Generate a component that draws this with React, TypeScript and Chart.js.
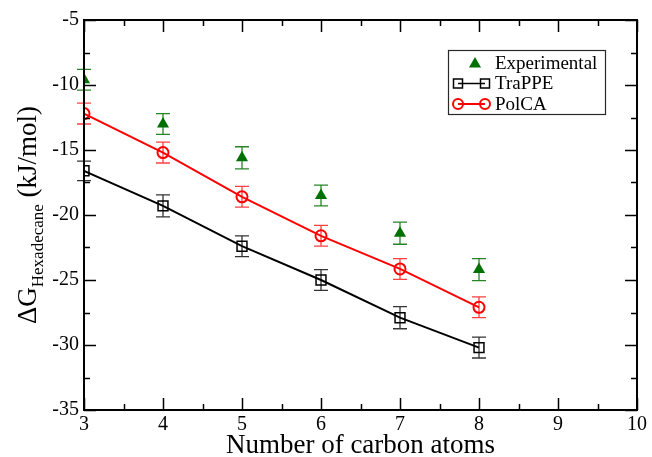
import React, { useEffect, useRef } from "react";
import { Chart, registerables } from "chart.js";

Chart.register(...registerables);

const carbonAtoms = [3, 4, 5, 6, 7, 8];
const experimental = [-9.6, -13.0, -15.6, -18.5, -21.4, -24.2];
const experimentalErr = [0.8, 0.8, 0.85, 0.8, 0.85, 0.85];
const trappe = [-16.6, -19.3, -22.4, -25.0, -27.9, -30.2];
const trappeErr = [0.75, 0.85, 0.8, 0.8, 0.85, 0.8];
const polca = [-12.2, -15.2, -18.6, -21.6, -24.15, -27.1];
const polcaErr = [0.8, 0.8, 0.8, 0.8, 0.8, 0.8];

const xMin = 3, xMax = 10, xStep = 1;
const yMin = -35, yMax = -5, yStep = 5;

const GREEN = "rgb(0,112,0)";
const RED = "rgb(255,0,0)";
const BLACK = "rgb(0,0,0)";
const SERIF = "'Liberation Serif', 'Times New Roman', serif";

const errorSets = [
  { values: experimental, errs: experimentalErr, color: "rgba(0,112,0,0.85)" },
  { values: trappe, errs: trappeErr, color: "rgba(0,0,0,0.8)" },
  { values: polca, errs: polcaErr, color: "rgba(255,0,0,0.75)" },
];

const framePlugin = {
  id: "gracePlugin",
  beforeDatasetsDraw(chart: any) {
    const ctx = chart.ctx;
    const xs = chart.scales.x;
    const ys = chart.scales.y;
    ctx.save();
    ctx.lineWidth = 1.3;
    errorSets.forEach((s) => {
      ctx.strokeStyle = s.color;
      s.values.forEach((v: number, i: number) => {
        const px = xs.getPixelForValue(carbonAtoms[i]);
        const top = ys.getPixelForValue(v + s.errs[i]);
        const bot = ys.getPixelForValue(v - s.errs[i]);
        ctx.beginPath();
        ctx.moveTo(px, top);
        ctx.lineTo(px, bot);
        ctx.moveTo(px - 7, top);
        ctx.lineTo(px + 7, top);
        ctx.moveTo(px - 7, bot);
        ctx.lineTo(px + 7, bot);
        ctx.stroke();
      });
    });
    ctx.restore();
  },
  afterDraw(chart: any) {
    const ctx = chart.ctx;
    const a = chart.chartArea;
    const xs = chart.scales.x;
    const ys = chart.scales.y;
    ctx.save();
    // ticks
    ctx.strokeStyle = BLACK;
    ctx.lineWidth = 1.5;
    ctx.beginPath();
    for (let v = xMin; v <= xMax + 1e-9; v += xStep / 2) {
      const major = Math.abs(v - Math.round(v)) < 1e-9;
      const len = major ? 12 : 6;
      const px = Math.round(xs.getPixelForValue(v)) + 0.5;
      ctx.moveTo(px, a.bottom);
      ctx.lineTo(px, a.bottom - len);
      ctx.moveTo(px, a.top);
      ctx.lineTo(px, a.top + len);
    }
    for (let v = yMin; v <= yMax + 1e-9; v += yStep / 2) {
      const major = Math.abs(v / yStep - Math.round(v / yStep)) < 1e-9;
      const len = major ? 12 : 6;
      const py = Math.round(ys.getPixelForValue(v)) + 0.5;
      ctx.moveTo(a.left, py);
      ctx.lineTo(a.left + len, py);
      ctx.moveTo(a.right, py);
      ctx.lineTo(a.right - len, py);
    }
    ctx.stroke();
    // frame
    ctx.lineWidth = 2;
    ctx.strokeRect(a.left, a.top, a.right - a.left, a.bottom - a.top);

    // y title with subscript
    const cy = (a.top + a.bottom) / 2;
    ctx.translate(36, cy);
    ctx.rotate(-Math.PI / 2);
    ctx.fillStyle = BLACK;
    ctx.textBaseline = "alphabetic";
    ctx.textAlign = "left";
    const bigFont = `27px ${SERIF}`;
    const subFont = `17px ${SERIF}`;
    ctx.font = bigFont;
    const w1 = ctx.measureText("ΔG").width;
    const w3 = ctx.measureText("(kJ/mol)").width;
    const space = ctx.measureText(" ").width;
    ctx.font = subFont;
    const w2 = ctx.measureText("Hexadecane").width;
    const total = w1 + w2 + space + w3;
    let x0 = -total / 2;
    ctx.font = bigFont;
    ctx.fillText("ΔG", x0, 0);
    x0 += w1;
    ctx.font = subFont;
    ctx.fillText("Hexadecane", x0, 7);
    x0 += w2 + space;
    ctx.font = bigFont;
    ctx.fillText("(kJ/mol)", x0, 0);
    ctx.setTransform(1, 0, 0, 1, 0, 0);

    // legend
    const lx = a.right - 189;
    const ly = a.top + 30;
    const lw = 157;
    const lh = 64;
    ctx.lineWidth = 1.2;
    ctx.strokeStyle = "rgb(40,40,40)";
    ctx.strokeRect(lx + 0.5, ly + 0.5, lw, lh);
    ctx.font = `19px ${SERIF}`;
    ctx.textBaseline = "middle";
    ctx.fillStyle = BLACK;
    const rows = [
      { label: "Experimental", y: ly + 13 },
      { label: "TraPPE", y: ly + 33.5 },
      { label: "PolCA", y: ly + 54 },
    ];
    rows.forEach((r) => ctx.fillText(r.label, lx + 47, r.y + 1));
    // experimental triangle
    ctx.fillStyle = GREEN;
    const tx = lx + 27, ty = rows[0].y + 1, tr = 7;
    ctx.beginPath();
    ctx.moveTo(tx, ty - tr);
    ctx.lineTo(tx + tr * 0.866, ty + tr / 2);
    ctx.lineTo(tx - tr * 0.866, ty + tr / 2);
    ctx.closePath();
    ctx.fill();
    // trappe
    ctx.strokeStyle = BLACK;
    ctx.lineWidth = 1.5;
    ctx.beginPath();
    ctx.moveTo(lx + 10, rows[1].y);
    ctx.lineTo(lx + 37, rows[1].y);
    ctx.stroke();
    [lx + 10, lx + 37].forEach((mx) => {
      ctx.strokeRect(mx - 4.5, rows[1].y - 4.5, 9, 9);
    });
    // polca
    ctx.strokeStyle = RED;
    ctx.lineWidth = 2;
    ctx.beginPath();
    ctx.moveTo(lx + 10, rows[2].y);
    ctx.lineTo(lx + 37, rows[2].y);
    ctx.stroke();
    [lx + 10, lx + 37].forEach((mx) => {
      ctx.beginPath();
      ctx.arc(mx, rows[2].y, 5, 0, Math.PI * 2);
      ctx.stroke();
    });
    ctx.restore();
  },
};

export default function App() {
  const ref = useRef<HTMLCanvasElement | null>(null);
  useEffect(() => {
    document.body.style.margin = "0";
    const canvas = ref.current!;
    const toXY = (vals: number[]) => vals.map((v, i) => ({ x: carbonAtoms[i], y: v }));
    const chart = new Chart(canvas, {
      type: "line",
      data: {
        datasets: [
          {
            label: "Experimental",
            data: toXY(experimental),
            showLine: false,
            pointStyle: "triangle",
            pointRadius: 7,
            backgroundColor: GREEN,
            borderColor: GREEN,
            pointBorderWidth: 0,
          },
          {
            label: "TraPPE",
            data: toXY(trappe),
            borderColor: BLACK,
            borderWidth: 2,
            pointStyle: "rect",
            pointRadius: 7,
            pointBorderWidth: 1.5,
            pointBackgroundColor: "rgba(0,0,0,0)",
            pointBorderColor: BLACK,
            tension: 0,
          },
          {
            label: "PolCA",
            data: toXY(polca),
            borderColor: RED,
            borderWidth: 2,
            pointStyle: "circle",
            pointRadius: 5.5,
            pointBorderWidth: 2,
            pointBackgroundColor: "rgba(0,0,0,0)",
            pointBorderColor: RED,
            tension: 0,
          },
        ],
      },
      options: {
        animation: false,
        responsive: false,
        devicePixelRatio: 1,
        layout: { padding: { top: 20, right: 14, left: 0, bottom: 0 } },
        plugins: { legend: { display: false }, tooltip: { enabled: false } },
        scales: {
          x: {
            type: "linear",
            min: xMin,
            max: xMax,
            grid: { display: false, drawTicks: false, tickLength: 0 },
            border: { display: false },
            afterFit: (s: any) => { s.height = 47; },
            ticks: {
              stepSize: xStep,
              color: BLACK,
              padding: 5,
              maxRotation: 0,
              font: { family: SERIF, size: 20, lineHeight: 1 },
            },
            title: { display: false },
          },
          y: {
            type: "linear",
            min: yMin,
            max: yMax,
            grid: { display: false, drawTicks: false, tickLength: 0 },
            border: { display: false },
            afterFit: (s: any) => { s.width = 84; },
            ticks: {
              stepSize: yStep,
              color: BLACK,
              padding: 5,
              font: { family: SERIF, size: 20, lineHeight: 1 },
            },
          },
        },
      },
      plugins: [
        framePlugin,
        {
          id: "xTitle",
          afterDraw(c: any) {
            const ctx = c.ctx;
            const a = c.chartArea;
            ctx.save();
            ctx.font = `27px ${SERIF}`;
            ctx.fillStyle = BLACK;
            ctx.textAlign = "center";
            ctx.textBaseline = "alphabetic";
            ctx.fillText("Number of carbon atoms", (a.left + a.right) / 2, 453);
            ctx.restore();
          },
        },
      ],
    } as any);
    return () => chart.destroy();
  }, []);
  return (
    <div style={{ width: 652, height: 457 }}>
      <canvas ref={ref} width={652} height={457} style={{ display: "block" }} />
    </div>
  );
}
